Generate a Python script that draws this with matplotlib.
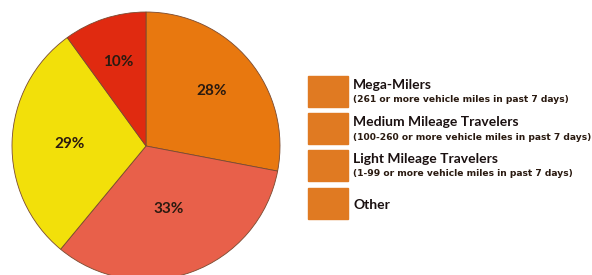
import numpy as np
import matplotlib
matplotlib.use("Agg")
import matplotlib.pyplot as plt

shares = [28, 33, 29, 10]
pie_colors = ["#e8780f", "#e8604a", "#f2e00a", "#e02a10"]
label_dist = [0.64, 0.50, 0.57, 0.66]

legend_titles = ["Mega-Milers", "Medium Mileage Travelers",
                 "Light Mileage Travelers", "Other"]
legend_notes = ["(261 or more vehicle miles in past 7 days)",
                "(100-260 or more vehicle miles in past 7 days)",
                "(1-99 or more vehicle miles in past 7 days)",
                ""]
swatch_color = "#e07a22"

plt.rcParams['font.family'] = ['Lato', 'DejaVu Sans']

W, H = 592, 275
fig = plt.figure(figsize=(W / 100, H / 100), dpi=100)

# pie: centre (146,146) px, radius 134 px
cx, cy, r = 146, 146, 134
ax = fig.add_axes([(cx - r) / W, (H - cy - r) / H, 2 * r / W, 2 * r / H])
wedges, _ = ax.pie(shares, colors=pie_colors, startangle=90, counterclock=False,
                   wedgeprops=dict(edgecolor="#7a4a30", linewidth=0.6))
for w, v, d in zip(wedges, shares, label_dist):
    mid = np.deg2rad((w.theta1 + w.theta2) / 2)
    ax.text(d * np.cos(mid), d * np.sin(mid), f"{v}%", ha="center", va="center",
            fontsize=11, fontweight="bold", color="#2a1a10")
ax.set_xlim(-1, 1)
ax.set_ylim(-1, 1)
ax.set_aspect("equal")
ax.axis("off")

# legend, built from figure-pixel layout
lax = fig.add_axes([0, 0, 1, 1])
lax.set_xlim(0, W)
lax.set_ylim(H, 0)
lax.axis("off")
rows_top = [76, 113, 150, 188]
for top, t, n in zip(rows_top, legend_titles, legend_notes):
    lax.add_patch(plt.Rectangle((308, top), 40, 31, color=swatch_color))
    if n:
        lax.text(353, top + 9, t, fontsize=10, fontweight="bold",
                 color="#1a1010", va="center", ha="left")
        lax.text(353, top + 24, n, fontsize=6.6, fontweight="bold",
                 color="#2a1a10", va="center", ha="left", family="DejaVu Sans")
    else:
        lax.text(353, top + 17, t, fontsize=10, fontweight="bold",
                 color="#1a1010", va="center", ha="left")

fig.savefig("out.png", dpi=100, facecolor="white")
